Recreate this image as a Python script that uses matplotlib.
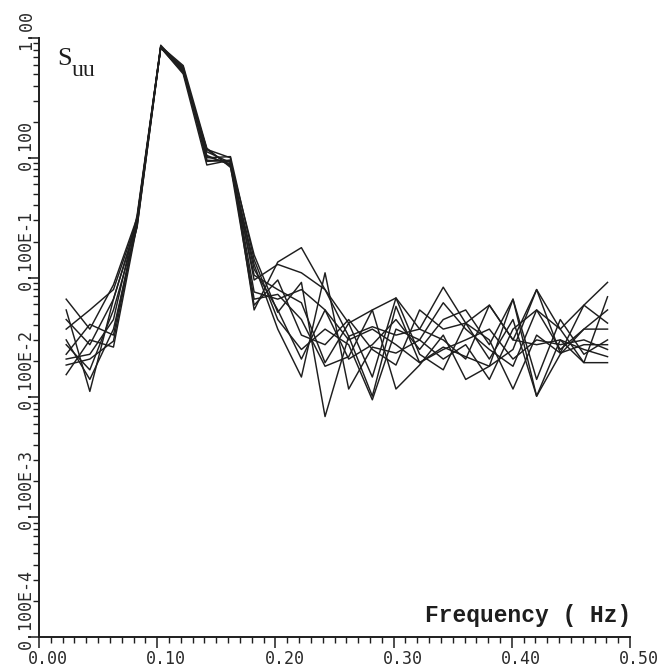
import matplotlib
matplotlib.use("Agg")
import matplotlib.pyplot as plt
import matplotlib.transforms as mtransforms
from matplotlib.ticker import MultipleLocator, LogLocator, NullFormatter
import numpy as np

# frequency of each spectral estimate (Hz)
freq = [0.023, 0.043, 0.063, 0.083, 0.103, 0.122, 0.142, 0.162,
        0.182, 0.202, 0.222, 0.242, 0.262, 0.282, 0.302, 0.322,
        0.342, 0.361, 0.381, 0.401, 0.421, 0.441, 0.461, 0.481]

# log10 of the normalised spectra Suu, one list per record
log_a = [-2.18, -2.43, -2.06, -1.50, -0.07, -0.27, -0.93, -1.00, -2.27, -1.87, -1.75, -2.10,
         -2.38, -2.27, -2.17, -2.43, -2.08, -2.38, -2.23, -2.52, -2.10, -2.63, -2.23, -2.04]
log_b = [-2.27, -2.95, -2.18, -1.53, -0.08, -0.25, -1.02, -1.03, -1.81, -2.29, -2.04, -3.16,
         -2.49, -2.99, -2.24, -2.71, -2.58, -2.66, -2.74, -2.18, -2.99, -2.52, -2.71, -2.16]
log_c = [-2.81, -2.52, -2.58, -1.56, -0.08, -0.28, -0.98, -1.06, -1.89, -2.43, -2.83, -1.96,
         -2.93, -2.58, -2.63, -2.52, -2.21, -2.43, -2.60, -2.74, -2.27, -2.43, -2.23, -2.38]
log_d = [-2.68, -2.64, -2.35, -1.48, -0.07, -0.23, -0.92, -1.08, -1.98, -2.10, -2.21, -2.71,
         -2.38, -2.83, -2.17, -2.64, -2.77, -2.38, -2.52, -2.93, -2.48, -2.63, -2.56, -2.56]
log_e = [-2.43, -2.27, -2.10, -1.52, -0.08, -0.30, -1.06, -1.02, -2.02, -1.89, -1.96, -2.10,
         -2.49, -2.41, -2.48, -2.43, -2.52, -2.68, -2.23, -2.52, -2.56, -2.52, -2.60, -2.66]
log_f = [-2.56, -2.77, -2.27, -1.58, -0.08, -0.27, -0.95, -1.04, -2.18, -2.14, -2.35, -2.74,
         -2.66, -2.27, -2.93, -2.73, -2.48, -2.85, -2.74, -2.60, -2.10, -2.43, -2.71, -2.71]
log_g = [-2.35, -2.56, -2.18, -1.54, -0.06, -0.26, -1.00, -0.99, -1.85, -2.35, -2.60, -2.43,
         -2.56, -3.02, -2.43, -2.52, -2.68, -2.56, -2.85, -2.43, -2.27, -2.60, -2.43, -2.27]
log_h = [-2.64, -2.39, -2.48, -1.50, -0.08, -0.29, -0.93, -1.07, -2.23, -2.02, -2.48, -2.56,
         -2.35, -2.60, -2.73, -2.27, -2.43, -2.38, -2.68, -2.35, -2.99, -2.64, -2.43, -2.43]
log_i = [-2.52, -2.85, -2.43, -1.57, -0.08, -0.24, -1.03, -1.02, -2.12, -2.18, -2.10, -2.27,
         -2.52, -2.43, -2.56, -2.71, -2.60, -2.52, -2.43, -2.68, -2.52, -2.56, -2.52, -2.60]
log_j = [-2.73, -2.68, -2.53, -1.52, -0.07, -0.28, -0.99, -1.05, -1.93, -2.27, -2.68, -2.27,
         -2.68, -2.56, -2.35, -2.60, -2.35, -2.27, -2.56, -2.18, -2.85, -2.35, -2.64, -2.52]

records = [log_a, log_b, log_c, log_d, log_e, log_f, log_g, log_h, log_i, log_j]

xtick_vals = [0.0, 0.1, 0.2, 0.3, 0.4, 0.5]
xtick_labels = ["0.00", "0.10", "0.20", "0.30", "0.40", "0.50"]
ytick_vals = [1e-5, 1e-4, 1e-3, 1e-2, 1e-1, 1.0]
ytick_labels = ["0.100E-4", "0.100E-3", "0.100E-2", "0.100E-1", "0.100", "1.00"]

W, H = 664, 672
fig = plt.figure(figsize=(W / 100, H / 100), dpi=100)
ax = fig.add_axes([39 / W, 1 - 637 / H, (630 - 39) / W, (637 - 38) / H])

for rec in records:
    ax.plot(freq, 10.0 ** np.array(rec), color="#1e1e1e", lw=1.05)

ax.set_yscale("log")
ax.set_ylim(1e-5, 1.0)
ax.set_xlim(0.0, 0.5)

for s in ["top", "right"]:
    ax.spines[s].set_visible(False)
for s in ["left", "bottom"]:
    ax.spines[s].set_linewidth(1.4)
    ax.spines[s].set_color("#1e1e1e")

ax.xaxis.set_major_locator(MultipleLocator(0.1))
ax.xaxis.set_minor_locator(MultipleLocator(0.01))
ax.yaxis.set_major_locator(LogLocator(base=10, numticks=10))
ax.yaxis.set_minor_locator(LogLocator(base=10, subs=np.arange(2, 10), numticks=100))
ax.xaxis.set_major_formatter(NullFormatter())
ax.xaxis.set_minor_formatter(NullFormatter())
ax.yaxis.set_major_formatter(NullFormatter())
ax.yaxis.set_minor_formatter(NullFormatter())
ax.tick_params(which="major", direction="out", length=8, width=1.1, color="#1e1e1e")
ax.tick_params(which="minor", direction="out", length=4.5, width=1.0, color="#1e1e1e")

mono = "DejaVu Sans Mono"

# x tick labels: decimal point sits on the tick
xtr = ax.get_xaxis_transform() + mtransforms.ScaledTranslation(9 / 100, -13 / 100, fig.dpi_scale_trans)
for v, lab in zip(xtick_vals, xtick_labels):
    ax.text(v, 0, lab, transform=xtr, ha="center", va="top",
            fontsize=12, family=mono, color="#2a2a2a", clip_on=False)

# y tick labels, written along the axis
ytr = ax.get_yaxis_transform() + mtransforms.ScaledTranslation(-13 / 100, -12 / 100, fig.dpi_scale_trans)
for v, lab in zip(ytick_vals, ytick_labels):
    ax.text(0, v, lab, transform=ytr, rotation=90, ha="center", va="bottom",
            fontsize=12, family=mono, color="#2a2a2a", clip_on=False)

fig.text(57 / W, 1 - 65 / H, "S", fontsize=19, family="Liberation Serif",
         color="#1e1e1e", ha="left", va="baseline")
fig.text(72 / W, 1 - 76 / H, "uu", fontsize=17, family="Liberation Serif",
         color="#1e1e1e", ha="left", va="baseline")

fig.text(425 / W, 1 - 622 / H, "Frequency ( Hz)", fontsize=16.5, family="Liberation Mono",
         fontweight="bold", color="#1e1e1e", ha="left", va="baseline")

fig.savefig("out.png", dpi=100, facecolor="white")
